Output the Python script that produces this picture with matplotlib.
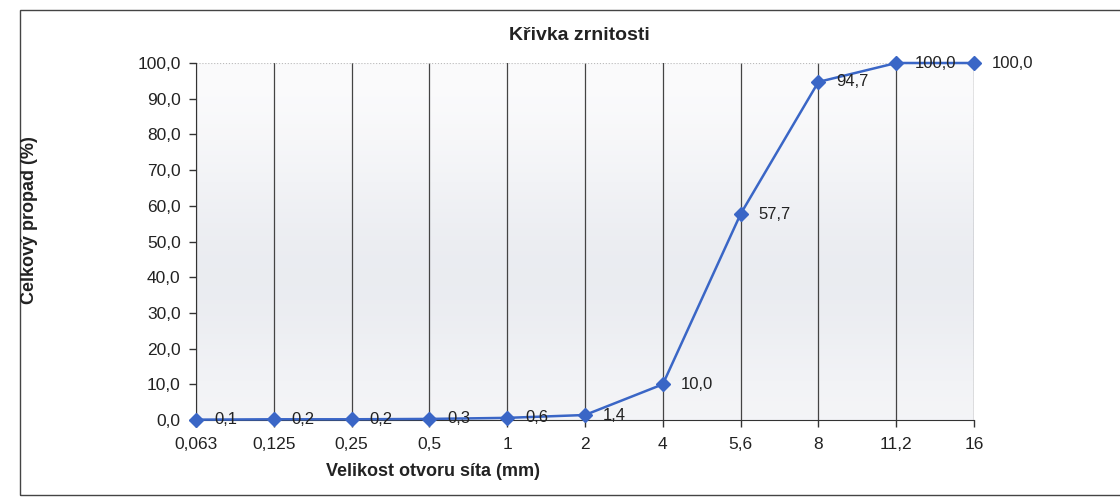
import matplotlib
matplotlib.use('Agg')
import matplotlib.pyplot as plt
import numpy as np
from matplotlib.patches import Rectangle

# Data
sieve_sizes = ['0,063', '0,125', '0,25', '0,5', '1', '2', '4', '5,6', '8', '11,2', '16']
passing = [0.1, 0.2, 0.2, 0.3, 0.6, 1.4, 10.0, 57.7, 94.7, 100.0, 100.0]
y_ticks = [0, 10, 20, 30, 40, 50, 60, 70, 80, 90, 100]

plt.rcParams['font.family'] = ['Liberation Sans', 'DejaVu Sans']

fig = plt.figure(figsize=(11.2, 4.99), dpi=100)
fig.patch.set_facecolor('white')

# Outer chart border
fig.patches.append(Rectangle((20 / 1120, 4 / 499), 1.2, 485 / 499, transform=fig.transFigure,
                             fill=False, edgecolor='#444444', linewidth=1.0))

ax = fig.add_axes([196 / 1120, 1 - 420 / 499, 778 / 1120, 357 / 499])

# Plot area background (light grey gradient, darker in the middle)
grad = np.array([[0.0], [0.3], [0.7], [1.0], [0.8], [0.4]])
ax.imshow(grad, extent=(0, len(sieve_sizes) - 1, 0, 100), aspect='auto',
          cmap=matplotlib.colors.LinearSegmentedColormap.from_list('bg', ['#fbfbfc', '#e9ebf0']),
          zorder=0, interpolation='bicubic')

x = np.arange(len(sieve_sizes))
ax.plot(x, passing, '-', color='#3a66c6', linewidth=1.8, marker='D', markersize=7,
        markerfacecolor='#3a66c6', markeredgecolor='#3a66c6', zorder=3, clip_on=False)

for xi, v in zip(x, passing):
    ax.annotate(f'{v:.1f}'.replace('.', ','), (xi, v), xytext=(13, 0), textcoords='offset points',
                ha='left', va='center', fontsize=12, color='#222222', zorder=4)

ax.set_xlim(0, len(sieve_sizes) - 1)
ax.set_ylim(0, 100)
ax.set_xticks(x)
ax.set_xticklabels(sieve_sizes, fontsize=12.5, color='#222222')
ax.set_yticks(y_ticks)
ax.set_yticklabels([f'{t:.1f}'.replace('.', ',') for t in y_ticks], fontsize=12.5, color='#222222')
ax.tick_params(axis='both', direction='out', length=5, width=1, color='#333333')
ax.tick_params(axis='x', pad=7)
ax.tick_params(axis='y', pad=6)

# Vertical grid lines at categories
ax.grid(axis='x', color='#444444', linewidth=0.9, zorder=1)
ax.set_axisbelow(True)
ax.axhline(100, color='#bbbbbb', linewidth=0.8, linestyle=':', zorder=1)

for s in ['top', 'right']:
    ax.spines[s].set_visible(False)
ax.axvline(len(sieve_sizes) - 1, color='#cccccc', linewidth=0.8, linestyle=':', zorder=1)
ax.spines['left'].set_color('#333333')
ax.spines['bottom'].set_color('#333333')

fig.text(579 / 1120, 1 - 35 / 499, 'Křivka zrnitosti', ha='center', va='center',
         fontsize=14, fontweight='bold', color='#222222')
fig.text(433 / 1120, 1 - 472 / 499, 'Velikost otvoru síta (mm)', ha='center', va='center',
         fontsize=13, fontweight='bold', color='#222222')
fig.text(30 / 1120, 1 - 220 / 499, 'Celkový propad (%)', ha='center', va='center',
         rotation=90, fontsize=13, fontweight='bold', color='#222222')

plt.savefig('out.png', dpi=100)
